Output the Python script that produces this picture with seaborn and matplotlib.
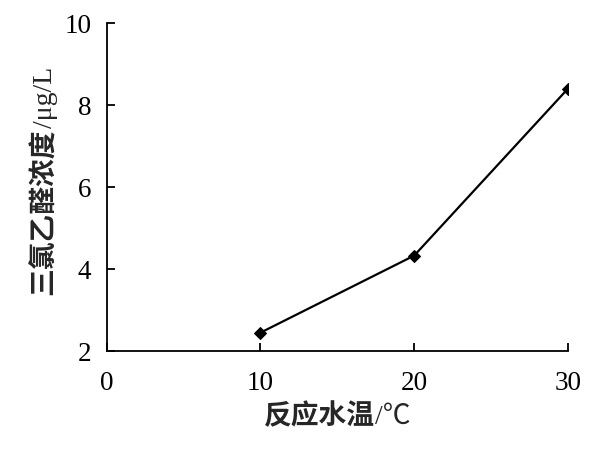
import matplotlib
matplotlib.use("Agg")
import matplotlib.pyplot as plt
import seaborn as sns
import pandas as pd

temps = [10, 20, 30]
conc = [2.45, 4.33, 8.40]
x_ticks = [0, 10, 20, 30]
y_ticks = [2, 4, 6, 8, 10]
x_label_cn, x_label_unit = "反应水温", "/℃"
y_label_cn, y_label_unit = "三氯乙醛浓度", "/μg/L"

sns.set_theme(style="ticks")
plt.rcParams['font.family'] = ['Liberation Serif', 'Noto Sans CJK SC', 'DejaVu Sans']

df = pd.DataFrame({"t": temps, "c": conc})

W, H = 610, 462
fig = plt.figure(figsize=(W / 100, H / 100), dpi=100)
ax = fig.add_axes([0.175, 0.240, 0.756, 0.710])
sns.lineplot(data=df, x="t", y="c", ax=ax, color="black", linewidth=1.6,
             marker="D", markersize=6, markeredgecolor="black")
ax.set_xlim(0, 30)
ax.set_ylim(2, 10)
ax.set_xticks(x_ticks)
ax.set_yticks(y_ticks)
ax.set_xlabel("")
ax.set_ylabel("")
ax.tick_params(direction="in", length=6, width=1.3, labelsize=19.5, colors="black")
ax.tick_params(axis="x", pad=14)
ax.tick_params(axis="y", pad=11)
for s in ["top", "right"]:
    ax.spines[s].set_visible(False)
for s in ["left", "bottom"]:
    ax.spines[s].set_linewidth(1.3)
    ax.spines[s].set_color("black")

r = fig.canvas.get_renderer()
cn_props = dict(fontsize=20, fontweight="bold", family=["Noto Sans CJK SC"])
un_props = dict(fontsize=20, fontweight="normal",
                family=["Liberation Serif", "Noto Sans CJK SC", "DejaVu Sans"])

def two_part(cn, un, center_px, base_px, vertical):
    t1 = fig.text(0, 0, cn, ha="left", va="baseline", rotation_mode="anchor", **cn_props)
    t2 = fig.text(0, 0, un, ha="left", va="baseline", rotation_mode="anchor", **un_props)
    w1 = t1.get_window_extent(r).width
    w2 = t2.get_window_extent(r).width
    start = center_px - (w1 + w2) / 2
    if vertical:
        t1.set_rotation(90); t2.set_rotation(90)
        t1.set_position((base_px / W, start / H))
        t2.set_position((base_px / W, (start + w1) / H))
    else:
        t1.set_position((start / W, base_px / H))
        t2.set_position(((start + w1) / W, base_px / H))

ax_cx = (0.175 + 0.931) / 2 * W
two_part(x_label_cn, x_label_unit, ax_cx, H - 424, False)
two_part(y_label_cn, y_label_unit, H - 181, 52, True)

fig.savefig("out.png", dpi=100, facecolor="white")
